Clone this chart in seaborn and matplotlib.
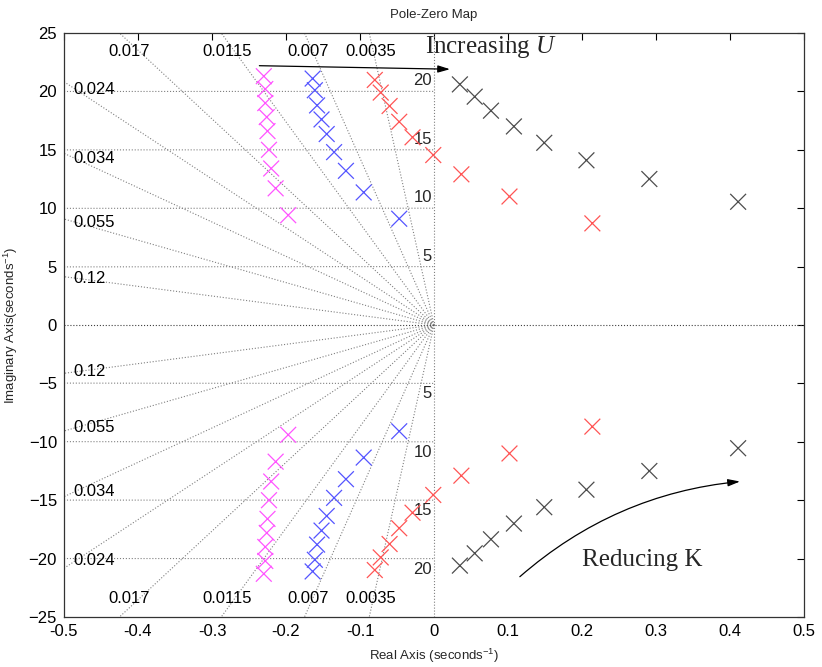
import numpy as np
import pandas as pd
import matplotlib
matplotlib.use("Agg")
import matplotlib.pyplot as plt
import seaborn as sns

# Closed-loop poles in the upper half-plane; the lower half holds the conjugates
magenta_re = [-0.230, -0.228, -0.228, -0.226, -0.225, -0.223, -0.220, -0.214, -0.197]
magenta_im = [21.3, 20.2, 19.0, 17.8, 16.6, 15.0, 13.4, 11.7, 9.4]
blue_re = [-0.164, -0.161, -0.158, -0.152, -0.145, -0.135, -0.119, -0.095, -0.047]
blue_im = [21.1, 20.1, 18.8, 17.6, 16.35, 14.8, 13.2, 11.35, 9.1]
red_re = [-0.080, -0.072, -0.060, -0.047, -0.029, -0.001, 0.037, 0.102, 0.214]
red_im = [20.98, 19.9, 18.75, 17.4, 16.07, 14.55, 12.9, 11.0, 8.7]
black_re = [0.035, 0.055, 0.077, 0.108, 0.149, 0.206, 0.291, 0.411]
black_im = [20.6, 19.55, 18.35, 17.0, 15.6, 14.1, 12.5, 10.55]

series_names = ["m", "b", "r", "k"]
series_colors = {"m": "#ff55ff", "b": "#5555ff", "r": "#ff5555", "k": "#4d4d4d"}

# s-plane grid: damping-ratio rays and natural-frequency arcs
zeta_values = [0.0035, 0.007, 0.0115, 0.017, 0.024, 0.034, 0.055, 0.12]
wn_values = [5, 10, 15, 20]

x_ticks = [-0.5, -0.4, -0.3, -0.2, -0.1, 0, 0.1, 0.2, 0.3, 0.4, 0.5]
x_tick_labels = ["-0.5", "-0.4", "-0.3", "-0.2", "-0.1", "0", "0.1", "0.2", "0.3", "0.4", "0.5"]
y_ticks = [-25, -20, -15, -10, -5, 0, 5, 10, 15, 20, 25]

XMIN, XMAX, YMIN, YMAX = -0.5, 0.5, -25, 25

rows = []
for name, re_vals, im_vals in [("m", magenta_re, magenta_im), ("b", blue_re, blue_im),
                               ("r", red_re, red_im), ("k", black_re, black_im)]:
    for re_v, im_v in zip(re_vals, im_vals):
        rows.append({"re": re_v, "im": im_v, "set": name})
        rows.append({"re": re_v, "im": -im_v, "set": name})
poles = pd.DataFrame(rows)

sns.set_theme(style="white")
plt.rcParams["font.family"] = ["Liberation Sans", "DejaVu Sans"]
plt.rcParams["mathtext.fontset"] = "custom"
plt.rcParams["mathtext.it"] = "Liberation Serif:italic"
plt.rcParams["mathtext.rm"] = "Liberation Serif"
plt.rcParams["mathtext.default"] = "regular"

fig = plt.figure(figsize=(8.22, 6.67), dpi=100)
ax = fig.add_axes([64 / 822, 1 - 617 / 667, 740 / 822, 584 / 667])

grid_kw = dict(color="#808080", ls=":", lw=0.8, zorder=1)
LABEL_SIZE = 12

# damping-ratio rays
reach = 40.0
for z in zeta_values:
    s = np.sqrt(1 - z ** 2)
    for sign in (1, -1):
        ax.plot([0, -z * reach], [0, sign * s * reach], **grid_kw)
    t = min(-XMIN / z, YMAX / s)
    xe, ye = -z * t, s * t
    if ye >= YMAX - 1e-6:
        for sign in (1, -1):
            ax.text(0.97 * xe, sign * 23.4, f"{z:g}", ha="center", va="center",
                    fontsize=LABEL_SIZE, color="black", zorder=3)
    else:
        for sign in (1, -1):
            ax.text(-0.488, sign * 0.97 * ye, f"{z:g}", ha="left", va="center",
                    fontsize=LABEL_SIZE, color="black", zorder=3)

# natural-frequency arcs (left half-plane)
xa = np.linspace(XMIN, 0, 200)
for wn in wn_values:
    ya = np.sqrt(wn ** 2 - xa ** 2)
    ax.plot(xa, ya, **grid_kw)
    ax.plot(xa, -ya, **grid_kw)
    ax.text(-0.003, wn + 0.25, str(wn), ha="right", va="bottom", fontsize=LABEL_SIZE, zorder=3)
    ax.text(-0.003, -wn - 0.25, str(wn), ha="right", va="top", fontsize=LABEL_SIZE, zorder=3)

ax.axhline(0, color="#404040", ls=":", lw=0.8, zorder=1)
ax.axvline(0, color="#808080", ls=":", lw=0.8, zorder=1)

sns.scatterplot(data=poles, x="re", y="im", hue="set", hue_order=series_names,
                palette=series_colors, marker="x", s=130, linewidth=0.9,
                legend=False, ax=ax, zorder=4)

# annotations
ax.annotate("", xy=(0.0216, 21.9), xytext=(-0.236, 22.2),
            arrowprops=dict(arrowstyle="-|>,head_length=0.6,head_width=0.18",
                            color="black", lw=0.9, shrinkA=0, shrinkB=0), zorder=5)
ax.text(-0.012, 23.26, r"Increasing $\mathit{U}$", ha="left", va="baseline",
        fontsize=18, family=["Liberation Serif", "DejaVu Serif"], zorder=5)

ax.annotate("", xy=(0.4135, -13.4), xytext=(0.116, -21.55),
            arrowprops=dict(arrowstyle="-|>,head_length=0.6,head_width=0.18",
                            color="black", lw=0.9, shrinkA=0, shrinkB=0,
                            connectionstyle="arc3,rad=-0.16"), zorder=5)
ax.text(0.2, -20.6, "Reducing K", ha="left", va="baseline",
        fontsize=18, family=["Liberation Serif", "DejaVu Serif"], zorder=5)

ax.set_xlim(XMIN, XMAX)
ax.set_ylim(YMIN, YMAX)
ax.set_xticks(x_ticks)
ax.set_xticklabels(x_tick_labels)
ax.set_yticks(y_ticks)
ax.tick_params(direction="in", top=True, right=True, length=5, width=0.8,
               labelsize=LABEL_SIZE, colors="black", pad=5)
for sp in ax.spines.values():
    sp.set_color("#333333")
    sp.set_linewidth(0.9)

ax.set_title("Pole-Zero Map", fontsize=9.5, pad=11)
ax.set_xlabel("Real Axis (seconds$^{-1}$)", fontsize=9.5, labelpad=6)
ax.set_ylabel("Imaginary Axis(seconds$^{-1}$)", fontsize=9.5, labelpad=6)

fig.savefig("out.png", dpi=100)
